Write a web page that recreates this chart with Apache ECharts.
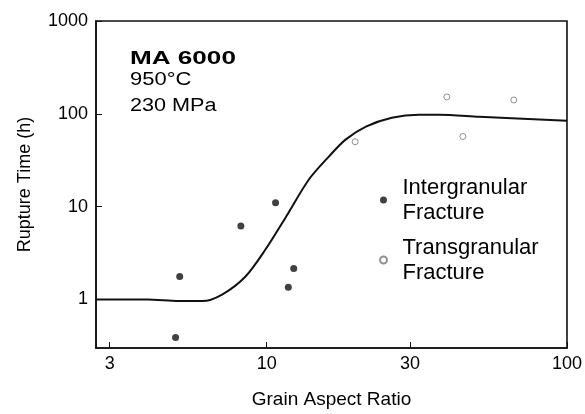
<!DOCTYPE html>
<html>
<head>
<meta charset="utf-8">
<script src="https://cdn.jsdelivr.net/npm/echarts@6/dist/echarts.min.js"></script>
<style>
  html, body { margin: 0; padding: 0; background: #fff; }
  #chart { width: 585px; height: 414px; }
</style>
</head>
<body>
<div id="chart"></div>
<script>
// data (grain aspect ratio, rupture time in h)
var xTicks = [3, 10, 30, 100];
var yTicks = [1, 10, 100, 1000];
var interGranular = [[4.97, 0.39], [5.13, 1.77], [8.2, 6.2], [10.7, 11], [11.8, 1.35], [12.3, 2.15]];
var transGranular = [[19.7, 50], [39.8, 152], [45, 57], [66.5, 141]];
var trendCurve = [[2.7, 1], [4, 1], [5.1, 0.96], [6.1, 0.96], [7.1, 1.13], [8.5, 1.77],
    [9.9, 3.45], [11.6, 7.8], [13.8, 19.5], [16.1, 34.6], [18.3, 52.7], [21.4, 72.8],
    [26.1, 90.6], [32.1, 97.6], [37.4, 97.6], [51, 93], [100, 84]];

var chart = echarts.init(document.getElementById('chart'));
var font = 'Liberation Sans, Arial, sans-serif';

var option = {
    animation: false,
    backgroundColor: '#fff',
    grid: { left: 96, top: 21, right: 12, bottom: 65, show: true, borderColor: '#111', borderWidth: 1.6 },
    xAxis: {
        type: 'log',
        logBase: 10,
        min: 2.7,
        max: 100,
        name: 'Grain Aspect Ratio',
        nameLocation: 'middle',
        nameGap: 42,
        nameTextStyle: { color: '#000', fontSize: 19, fontFamily: font },
        axisLine: { lineStyle: { color: '#111', width: 1.6 } },
        axisTick: { inside: true, length: 6, customValues: xTicks, lineStyle: { color: '#111' } },
        axisLabel: {
            customValues: xTicks, color: '#000', fontSize: 18, fontFamily: font, margin: 7,
            formatter: function (v) { return String(Math.round(v)); }
        },
        splitLine: { show: false }
    },
    yAxis: {
        type: 'log',
        logBase: 10,
        min: 0.3,
        max: 1000,
        name: 'Rupture Time (h)',
        nameLocation: 'middle',
        nameGap: 62,
        nameTextStyle: { color: '#000', fontSize: 18, fontFamily: font },
        axisLine: { lineStyle: { color: '#111', width: 1.6 } },
        axisTick: { inside: true, length: 6, customValues: yTicks, lineStyle: { color: '#111' } },
        axisLabel: {
            customValues: yTicks, color: '#000', fontSize: 18, fontFamily: font, margin: 8,
            formatter: function (v) { return String(Math.round(v)); }
        },
        splitLine: { show: false }
    },
    legend: {
        orient: 'vertical',
        left: 379,
        top: 175,
        padding: 0,
        itemWidth: 28,
        itemHeight: 7,
        itemGap: 10,
        data: ['Intergranular\nFracture', 'Transgranular\nFracture'],
        textStyle: { color: '#000', fontSize: 22, fontFamily: font, lineHeight: 25 }
    },
    graphic: [
        { type: 'text', x: 130, y: 50, scaleX: 1.45, style: { text: 'MA 6000', font: 'bold 18px ' + font, fill: '#000', verticalAlign: 'top' } },
        { type: 'text', x: 130, y: 71, scaleX: 1.22, style: { text: '950°C', font: '18px ' + font, fill: '#000', verticalAlign: 'top' } },
        { type: 'text', x: 130, y: 97, scaleX: 1.2, style: { text: '230 MPa', font: '18px ' + font, fill: '#000', verticalAlign: 'top' } }
    ],
    series: [
        {
            name: 'trend',
            type: 'line',
            data: trendCurve,
            smooth: 0.3,
            showSymbol: false,
            lineStyle: { color: '#111', width: 2 },
            z: 1
        },
        {
            name: 'Intergranular\nFracture',
            type: 'scatter',
            data: interGranular,
            symbol: 'circle',
            symbolSize: 7,
            itemStyle: { color: '#111' },
            z: 3
        },
        {
            name: 'Transgranular\nFracture',
            type: 'scatter',
            data: transGranular,
            symbol: 'circle',
            symbolSize: 6,
            itemStyle: { color: '#fff', borderColor: '#777', borderWidth: 1 },
            z: 3
        }
    ]
};

chart.setOption(option);
</script>
</body>
</html>
